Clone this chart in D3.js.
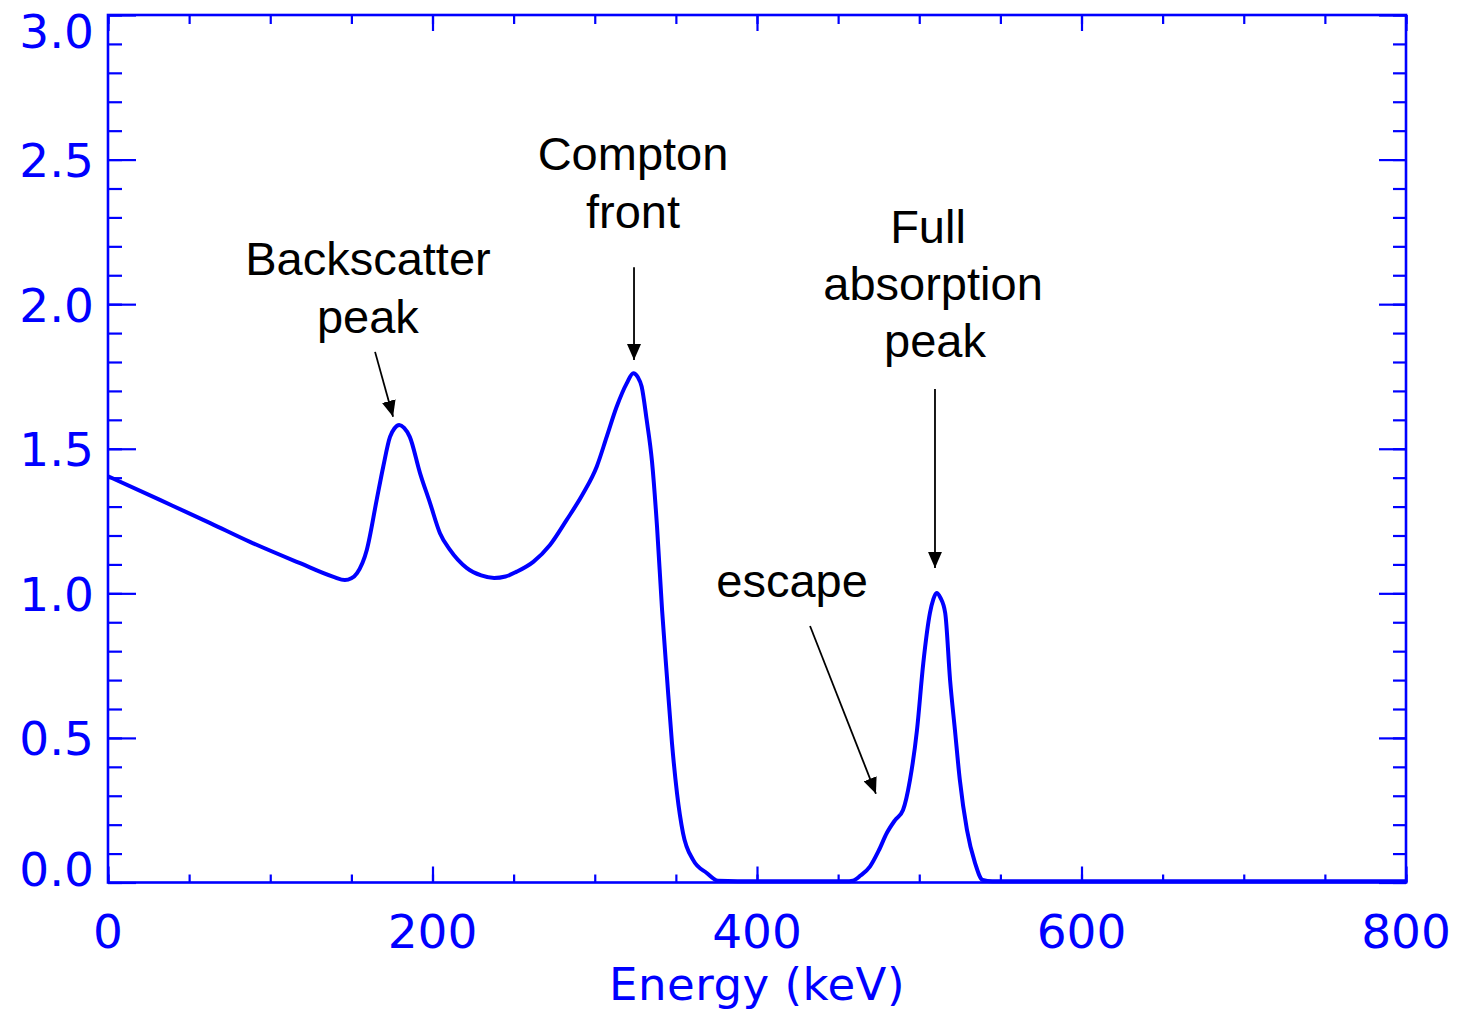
<!DOCTYPE html>
<html>
<head>
<meta charset="utf-8">
<script src="https://cdn.jsdelivr.net/npm/d3@7"></script>
<style>
  html, body { margin: 0; padding: 0; background: #fff; }
  svg { display: block; }
</style>
</head>
<body>
<svg id="chart" width="1457" height="1018"></svg>
<script>
// ---- data ----
const energy = [0, 32, 63, 87.5, 118, 139, 146, 150, 153.5, 159.5, 165.6, 169.6, 173.8, 176.5, 179.5, 182.5, 186, 192.3, 198.5, 204.6, 210.8, 221, 230, 238, 245, 251.9, 262.1, 272.4, 282.7, 292.9, 301.2, 307.4, 313.5, 319.7, 323.8, 326.5, 328.9, 332, 335.3, 338.4, 341.5, 344.5, 347.6, 350.7, 354.4, 360.6, 369, 376, 400, 455, 459, 464, 469.6, 475, 480, 485, 490, 494.3, 498.6, 502.5, 506.6, 508.7, 510.7, 513, 516, 519, 522, 525, 529.4, 534.4, 539, 545, 600, 700, 800];
const counts = [1.405, 1.323, 1.243, 1.178, 1.105, 1.057, 1.046, 1.052, 1.07, 1.15, 1.323, 1.437, 1.541, 1.570, 1.582, 1.572, 1.541, 1.416, 1.312, 1.208, 1.150, 1.088, 1.062, 1.053, 1.058, 1.075, 1.109, 1.167, 1.254, 1.346, 1.438, 1.542, 1.645, 1.726, 1.761, 1.748, 1.715, 1.600, 1.455, 1.229, 0.942, 0.711, 0.482, 0.309, 0.171, 0.078, 0.033, 0.006, 0.004, 0.004, 0.006, 0.025, 0.055, 0.110, 0.171, 0.215, 0.251, 0.355, 0.527, 0.759, 0.932, 0.980, 1.001, 0.985, 0.932, 0.700, 0.527, 0.355, 0.182, 0.067, 0.009, 0.004, 0.004, 0.004, 0.004];

const xMajorTicks = [0, 200, 400, 600, 800];
const xMinorTicks = d3.range(0, 801, 50);
const yMajorTicks = [0.0, 0.5, 1.0, 1.5, 2.0, 2.5, 3.0];
const yMinorTicks = d3.range(0, 31, 1).map(d => d / 10);
const xTickLabels = ["0", "200", "400", "600", "800"];
const yTickLabels = ["0.0", "0.5", "1.0", "1.5", "2.0", "2.5", "3.0"];
const xTitle = "Energy (keV)";

// annotations: text lines anchored in data space, arrows from -> to in data space
const annotLines = [
  { text: "Backscatter", e: 160.2, v: 2.101 },
  { text: "peak",        e: 160.2, v: 1.900 },
  { text: "Compton",     e: 323.6, v: 2.464 },
  { text: "front",       e: 323.6, v: 2.264 },
  { text: "Full",        e: 505.4, v: 2.212 },
  { text: "absorption",  e: 508.5, v: 2.014 },
  { text: "peak",        e: 509.7, v: 1.817 },
  { text: "escape",      e: 421.6, v: 0.987 }
];
const arrows = [
  { e0: 164.6, v0: 1.835, e1: 175.7, v1: 1.611 },
  { e0: 324.2, v0: 2.128, e1: 324.2, v1: 1.807 },
  { e0: 509.7, v0: 1.707, e1: 509.7, v1: 1.088 },
  { e0: 432.7, v0: 0.887, e1: 473.3, v1: 0.307 }
];

// ---- layout ----
const L = 108, R = 1406, T = 15, B = 882.5;
const BLUE = "#0000ff";
const svg = d3.select("#chart");

const x = d3.scaleLinear().domain([0, 800]).range([L, R]);
const y = d3.scaleLinear().domain([0, 3]).range([B, T]);

// curve
const line = d3.line()
  .x((d, i) => x(energy[i]))
  .y((d, i) => y(counts[i]))
  .curve(d3.curveMonotoneX);

svg.append("path")
  .datum(counts)
  .attr("d", line)
  .attr("fill", "none")
  .attr("stroke", BLUE)
  .attr("stroke-width", 4)
  .attr("stroke-linejoin", "round");

// axes (ticks inward)
function styleAxis(g) {
  g.select(".domain").remove();
  g.selectAll("line").attr("stroke", BLUE).attr("stroke-width", 2.2);
  g.selectAll("text").remove();
}
svg.append("g").attr("transform", `translate(0,${B})`)
  .call(d3.axisBottom(x).tickValues(xMinorTicks).tickSize(-8).tickFormat("")).call(styleAxis);
svg.append("g").attr("transform", `translate(0,${B})`)
  .call(d3.axisBottom(x).tickValues(xMajorTicks).tickSize(-16).tickFormat("")).call(styleAxis);
svg.append("g").attr("transform", `translate(0,${T})`)
  .call(d3.axisTop(x).tickValues(xMinorTicks).tickSize(-9).tickFormat("")).call(styleAxis);
svg.append("g").attr("transform", `translate(0,${T})`)
  .call(d3.axisTop(x).tickValues(xMajorTicks).tickSize(-16).tickFormat("")).call(styleAxis);
svg.append("g").attr("transform", `translate(${L},0)`)
  .call(d3.axisLeft(y).tickValues(yMinorTicks).tickSize(-14).tickFormat("")).call(styleAxis);
svg.append("g").attr("transform", `translate(${L},0)`)
  .call(d3.axisLeft(y).tickValues(yMajorTicks).tickSize(-28).tickFormat("")).call(styleAxis);
svg.append("g").attr("transform", `translate(${R},0)`)
  .call(d3.axisRight(y).tickValues(yMinorTicks).tickSize(-13).tickFormat("")).call(styleAxis);
svg.append("g").attr("transform", `translate(${R},0)`)
  .call(d3.axisRight(y).tickValues(yMajorTicks).tickSize(-27).tickFormat("")).call(styleAxis);

// frame
svg.append("rect")
  .attr("x", L).attr("y", T).attr("width", R - L).attr("height", B - T)
  .attr("fill", "none").attr("stroke", BLUE).attr("stroke-width", 2.6);

// tick labels
const axisFont = "'DejaVu Sans', Verdana, sans-serif";
svg.append("g").selectAll("text").data(xMajorTicks).join("text")
  .attr("x", d => x(d)).attr("y", 948)
  .attr("text-anchor", "middle")
  .attr("font-family", axisFont).attr("font-size", 47)
  .attr("fill", BLUE)
  .text((d, i) => xTickLabels[i]);

svg.append("g").selectAll("text").data(yMajorTicks).join("text")
  .attr("x", 94)
  .attr("y", (d, i) => {
    if (i === 0) return y(d) + 3;
    if (i === yMajorTicks.length - 1) return y(d) + 33;
    return y(d) + 17.5;
  })
  .attr("text-anchor", "end")
  .attr("font-family", axisFont).attr("font-size", 47)
  .attr("fill", BLUE)
  .text((d, i) => yTickLabels[i]);

svg.append("text")
  .attr("x", (L + R) / 2).attr("y", 1000)
  .attr("text-anchor", "middle")
  .attr("font-family", axisFont).attr("font-size", 45)
  .attr("letter-spacing", 0.5)
  .attr("fill", BLUE)
  .text(xTitle);

// annotations
svg.append("defs").append("marker")
  .attr("id", "ah")
  .attr("markerUnits", "userSpaceOnUse")
  .attr("viewBox", "0 0 16 14")
  .attr("refX", 16).attr("refY", 7)
  .attr("markerWidth", 16).attr("markerHeight", 14)
  .attr("orient", "auto")
  .append("path").attr("d", "M0,0 L16,7 L0,14 Z").attr("fill", "#000");

svg.append("g").selectAll("line").data(arrows).join("line")
  .attr("x1", d => x(d.e0)).attr("y1", d => y(d.v0))
  .attr("x2", d => x(d.e1)).attr("y2", d => y(d.v1))
  .attr("stroke", "#000").attr("stroke-width", 1.8)
  .attr("marker-end", "url(#ah)");

svg.append("g").selectAll("text").data(annotLines).join("text")
  .attr("x", d => x(d.e)).attr("y", d => y(d.v))
  .attr("text-anchor", "middle")
  .attr("font-family", "'Liberation Sans', Arial, sans-serif")
  .attr("font-size", 47)
  .attr("fill", "#000")
  .text(d => d.text);
</script>
</body>
</html>
